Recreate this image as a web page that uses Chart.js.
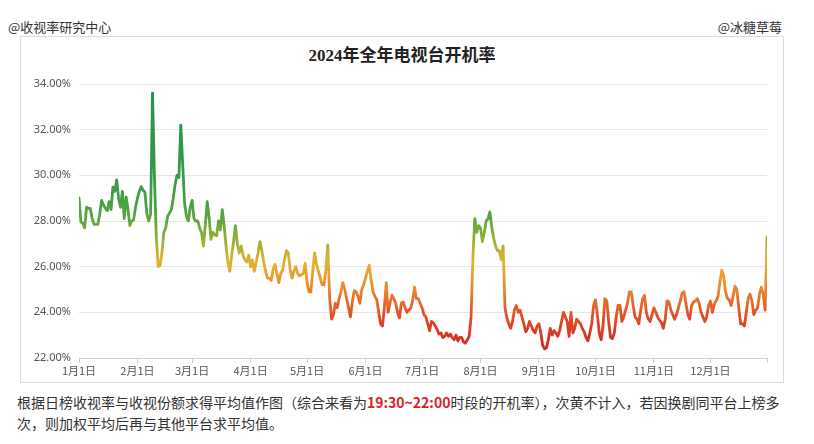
<!DOCTYPE html>
<html>
<head>
<meta charset="utf-8">
<script src="https://cdn.jsdelivr.net/npm/chart.js@4.4.1/dist/chart.umd.min.js"></script>
<style>
  html, body { margin: 0; padding: 0; background: #fff; }
  body { width: 814px; height: 444px; position: relative; overflow: hidden;
         font-family: "Noto Sans CJK SC", "Noto Sans", sans-serif; color: #333; }
  .hdr { position: absolute; top: 18px; font-size: 13px; line-height: 18px; color: #333; white-space: nowrap; }
  #hl { left: 8px; }
  #hr { right: 32px; }
  #panel { position: absolute; left: 20px; top: 36px; width: 762px; height: 345px; border: 1px solid #dcdcdc; }
  #title { position: absolute; left: 20px; width: 764px; top: 44px; text-align: center;
           font-size: 17px; font-weight: 700; line-height: 24px; color: #222;
           font-family: "Liberation Serif", "Noto Sans CJK SC", serif; }
  #wrap { position: absolute; left: 21px; top: 37px; width: 762px; height: 345px; }
  #note { position: absolute; left: 17px; top: 392px; font-size: 14px; line-height: 21px; color: #333; white-space: nowrap; }
  #note b { color: #d9231d; font-weight: 700; }
</style>
</head>
<body>
<div class="hdr" id="hl">@收视率研究中心</div>
<div class="hdr" id="hr">@冰糖草莓</div>
<div id="panel"></div>
<div id="title">2024年全年电视台开机率</div>
<div id="wrap"><canvas id="c" width="762" height="345"></canvas></div>
<div id="note">根据日榜收视率与收视份额求得平均值作图（综合来看为<b>19:30~22:00</b>时段的开机率），次黄不计入，若因换剧同平台上榜多<br>次，则加权平均后再与其他平台求平均值。</div>
<script>
// Daily TV set-on rate (%) per month, 2024
const jan = [29.0, 27.95, 27.9, 27.7, 28.6, 28.55, 28.55, 28.1, 27.85, 27.85, 27.85, 28.3, 28.9, 28.7, 28.55, 28.45, 28.85, 28.5, 29.48, 29.3, 29.8, 29.0, 28.6, 29.3, 28.1, 29.05, 28.5, 27.8, 28.0, 28.05, 28.6];
const feb = [29.0, 29.3, 29.5, 29.35, 29.25, 28.3, 28.0, 28.3, 33.6, 30.0, 27.3, 26.0, 26.05, 26.6, 27.5, 27.7, 28.2, 28.35, 28.5, 29.0, 29.6, 30.0, 29.9, 32.2, 30.5, 28.8, 28.2, 28.0, 28.6];
const mar = [28.9, 28.1, 28.0, 28.0, 27.7, 27.5, 26.9, 27.8, 28.85, 28.2, 27.2, 27.5, 27.4, 27.35, 28.0, 27.6, 28.5, 27.8, 26.9, 26.2, 25.8, 26.5, 27.1, 27.8, 27.0, 26.6, 26.9, 26.5, 26.3, 26.2, 26.5];
const apr = [26.0, 26.3, 25.8, 26.2, 26.6, 27.1, 26.7, 26.2, 25.8, 25.5, 25.5, 25.4, 25.9, 26.1, 25.7, 25.3, 25.7, 25.85, 26.3, 26.7, 26.6, 25.9, 25.5, 25.8, 26.0, 25.7, 25.6, 25.65, 25.7, 26.15];
const may = [25.3, 24.9, 24.9, 25.8, 26.6, 26.1, 25.8, 25.5, 25.2, 25.2, 25.9, 26.95, 24.6, 23.7, 23.9, 24.4, 24.2, 24.6, 24.9, 25.3, 25.0, 24.6, 24.2, 23.8, 24.45, 24.95, 24.9, 24.7, 24.4, 25.0, 25.2];
const jun = [25.5, 25.8, 26.07, 25.4, 24.9, 24.7, 24.55, 24.0, 23.5, 23.4, 24.2, 25.3, 24.0, 24.4, 24.75, 24.6, 24.4, 24.0, 23.75, 24.4, 24.45, 24.2, 24.0, 24.1, 24.2, 24.5, 25.1, 24.6, 24.6, 24.4];
const jul = [24.2, 23.9, 23.8, 23.5, 23.2, 23.6, 23.55, 23.4, 23.25, 23.05, 23.1, 22.9, 22.95, 23.1, 22.95, 23.05, 22.9, 22.8, 23.0, 22.75, 22.9, 22.9, 22.7, 22.65, 22.8, 22.95, 23.8, 26.5, 28.1, 27.5, 27.8];
const aug = [27.7, 27.1, 27.5, 28.0, 28.1, 28.4, 27.7, 27.25, 26.9, 26.7, 26.7, 26.3, 26.9, 24.2, 23.75, 23.5, 23.3, 23.6, 24.1, 24.3, 24.0, 24.1, 23.8, 23.5, 23.15, 23.3, 23.6, 23.4, 23.2, 23.1, 23.4];
const sep = [23.5, 23.1, 22.55, 22.4, 22.45, 22.8, 23.3, 23.0, 23.2, 23.1, 22.95, 23.2, 23.6, 24.0, 23.8, 23.6, 22.95, 24.0, 23.1, 23.3, 23.7, 23.6, 23.5, 23.3, 23.15, 22.9, 22.75, 23.1, 23.5, 24.3];
const oct = [24.55, 23.9, 23.1, 22.8, 23.4, 24.6, 24.5, 23.6, 22.9, 22.85, 23.1, 23.8, 24.3, 24.3, 23.6, 23.8, 24.1, 24.4, 24.9, 24.9, 24.3, 23.8, 23.7, 23.5, 24.1, 24.6, 24.75, 24.0, 23.7, 23.6, 23.9];
const nov = [24.2, 24.0, 23.8, 23.65, 23.55, 23.3, 23.7, 24.5, 24.45, 24.1, 23.9, 23.7, 23.9, 24.2, 24.5, 24.85, 24.9, 24.4, 23.9, 23.7, 24.3, 24.45, 24.5, 24.6, 24.4, 24.0, 23.8, 23.6, 23.8, 24.3];
const dec = [24.5, 24.0, 24.35, 24.5, 24.7, 25.3, 25.85, 25.6, 24.9, 24.6, 24.55, 24.3, 24.7, 25.15, 25.0, 24.2, 23.5, 23.5, 23.4, 24.0, 24.6, 24.8, 24.5, 23.9, 24.1, 24.2, 24.8, 25.1, 24.8, 24.1, 27.3];

const monthSeries = [jan, feb, mar, apr, may, jun, jul, aug, sep, oct, nov, dec];
const tickLabels = ['1月1日','2月1日','3月1日','4月1日','5月1日','6月1日','7月1日','8月1日','9月1日','10月1日','11月1日','12月1日'];
const yTicks = [22, 24, 26, 28, 30, 32, 34];

// categories: one per day
const categories = [];
const values = [];
const monthStarts = [];
monthSeries.forEach((arr, m) => {
  monthStarts.push(values.length);
  arr.forEach((v, d) => { categories.push((m + 1) + '月' + (d + 1) + '日'); values.push(v); });
});
const lastIdx = values.length - 1;
const points = values.map((v, i) => ({ x: i, y: v }));

const colorStops = [
  [34, '#23904a'], [30, '#359b48'], [29, '#43a046'], [28, '#5fa640'], [27.3, '#8fae38'], [27, '#a9b034'],
  [26.3, '#dcb230'], [26, '#eaab30'], [25, '#e9862e'], [24, '#e2542a'], [23, '#d73523'], [22, '#cc2020']
];
let gradCache = null, gradKey = '';
function lineColor(ctx) {
  const chart = ctx.chart;
  const area = chart.chartArea;
  if (!area) return '#d63322';
  const ys = chart.scales.y;
  const y0 = ys.getPixelForValue(34), y1 = ys.getPixelForValue(22);
  const key = y0 + '_' + y1;
  if (gradCache && key === gradKey) return gradCache;
  const g = chart.ctx.createLinearGradient(0, y0, 0, y1);
  colorStops.forEach(([v, c]) => g.addColorStop((34 - v) / 12, c));
  gradCache = g; gradKey = key;
  return g;
}

new Chart(document.getElementById('c'), {
  type: 'line',
  data: {
    labels: categories,
    datasets: [{
      data: points,
      borderColor: lineColor,
      borderWidth: 2.8,
      pointRadius: 0,
      tension: 0,
      fill: false,
      borderJoinStyle: 'round',
      borderCapStyle: 'round'
    }]
  },
  options: {
    responsive: false,
    animation: false,
    layout: { padding: { top: 47, right: 16, left: 0, bottom: 0 } },
    plugins: { legend: { display: false }, tooltip: { enabled: false }, title: { display: false } },
    scales: {
      x: {
        type: 'linear',
        min: 0,
        max: lastIdx,
        afterBuildTicks: (axis) => {
          axis.ticks = monthStarts.concat([lastIdx]).map(v => ({ value: v }));
        },
        afterFit: (axis) => { axis.height = 24; },
        ticks: {
          autoSkip: false,
          maxRotation: 0,
          padding: 1,
          color: '#555',
          font: { size: 11, family: '"Noto Sans CJK SC", "Noto Sans", sans-serif' },
          callback: (v) => {
            const i = monthStarts.indexOf(v);
            return i >= 0 ? tickLabels[i] : '';
          }
        },
        grid: { drawOnChartArea: false, drawTicks: true, tickLength: 5, color: '#cfcfcf' },
        border: { display: true, color: '#cfcfcf' }
      },
      y: {
        min: 22,
        max: 34,
        afterBuildTicks: (axis) => { axis.ticks = yTicks.map(v => ({ value: v })); },
        afterFit: (axis) => { axis.width = 58; },
        ticks: {
          padding: 8,
          color: '#555',
          font: { size: 11, family: '"Noto Sans", "Noto Sans CJK SC", sans-serif' },
          callback: (v) => v.toFixed(2) + '%'
        },
        grid: { color: '#e6e6e6', drawTicks: false, lineWidth: 1 },
        border: { display: false }
      }
    }
  }
});
</script>
</body>
</html>
